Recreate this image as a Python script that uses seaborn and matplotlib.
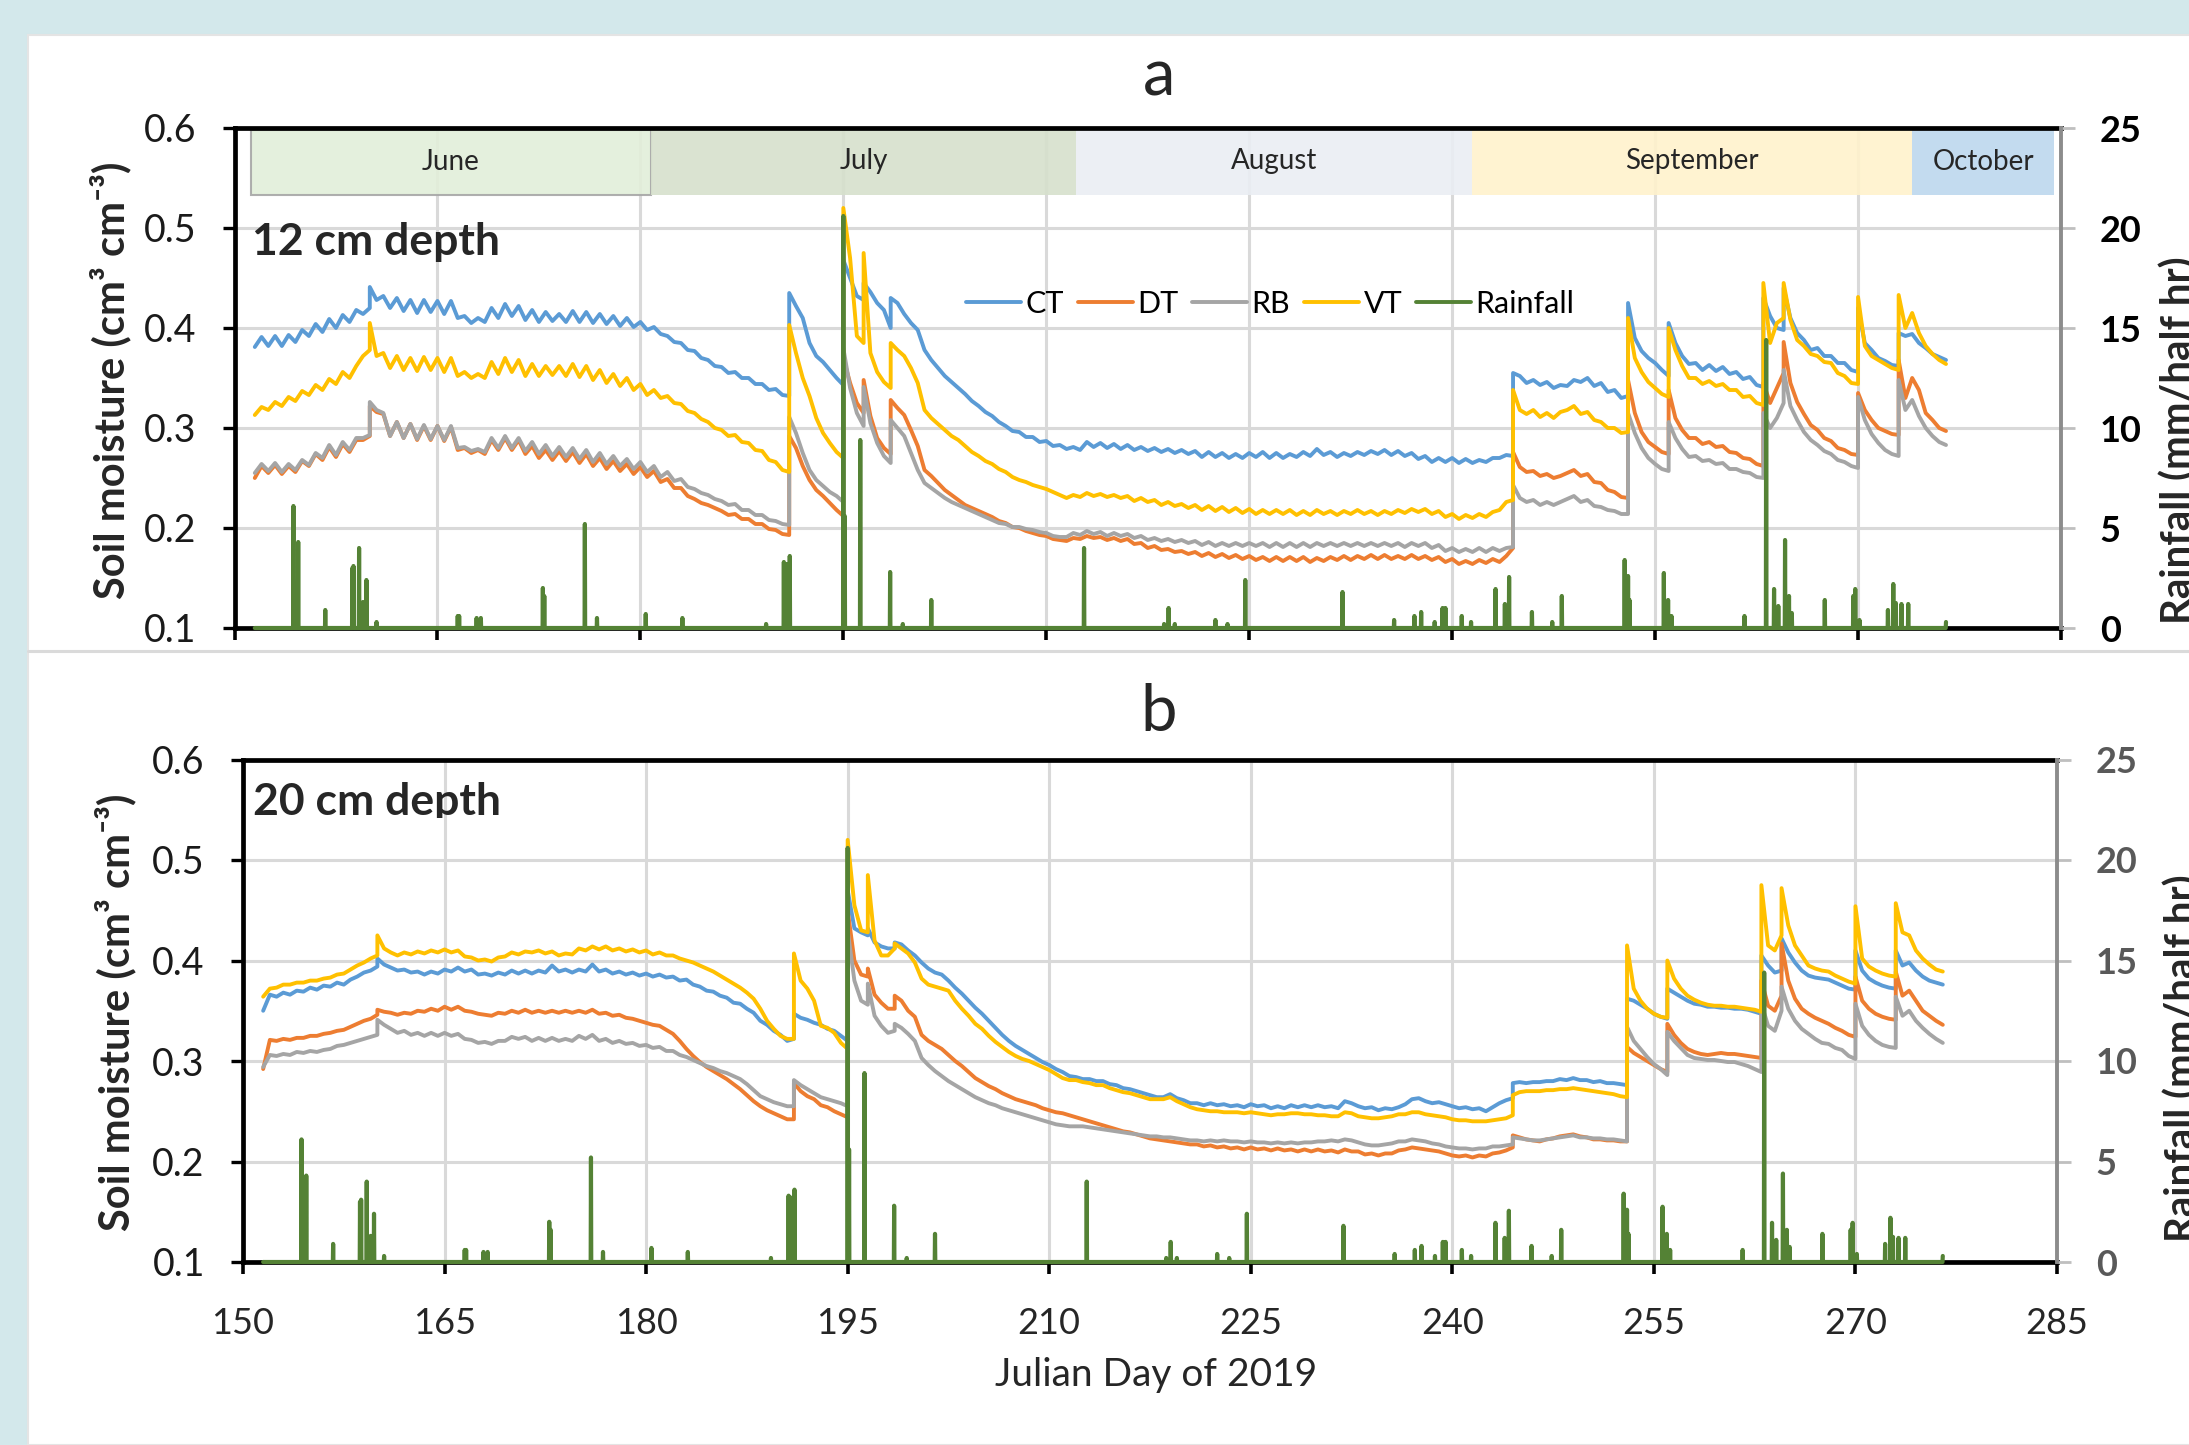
import numpy as np
import pandas as pd
import matplotlib
matplotlib.use("Agg")
import matplotlib.pyplot as plt
import seaborn as sns
from matplotlib.patches import Rectangle
from matplotlib.lines import Line2D
from matplotlib.ticker import FormatStrFormatter
from matplotlib.transforms import Bbox, TransformedBbox

sns.set_theme(style="white")
plt.rcParams["font.family"] = ["Lato", "DejaVu Sans"]

W, H = 2189, 1445

# sampling times: every half day; a repeated day marks a sharp rise after rain
grid_days = np.arange(151.5, 277.0, 0.5)
jump_days = [160.0, 191.0, 195.0, 196.5, 198.5, 244.5, 253.0, 256.0,
             263.0, 264.5, 270.0, 273.0]
days = np.sort(np.concatenate([grid_days, jump_days]), kind="stable")

# soil moisture x1000 (cm3 cm-3) at 12 cm depth
ct_12 = [381, 391, 382, 392, 382, 393, 386, 398, 392, 404,
         396, 409, 400, 413, 406, 418, 414, 420, 441, 428, 432,
         420, 430, 417, 428, 415, 428, 416, 427, 414, 427,
         410, 412, 405, 410, 406, 420, 410, 424, 412, 422,
         408, 418, 406, 416, 407, 414, 406, 417, 406, 416,
         405, 414, 404, 412, 402, 410, 401, 406, 398, 401,
         394, 392, 386, 385, 378, 377, 370, 368, 362, 361,
         355, 356, 350, 350, 344, 344, 338, 339, 333, 332, 435,
         422, 410, 385, 372, 366, 358, 350, 343, 468, 450, 432,
         428, 445, 436, 425, 418, 400, 430, 425, 414, 405, 398, 378,
         368, 360, 352, 346, 340, 334, 327, 322, 316, 312,
         306, 302, 297, 296, 291, 291, 286, 287, 282, 283,
         279, 281, 278, 286, 281, 285, 280, 284, 279, 283,
         278, 281, 277, 280, 276, 279, 275, 278, 274, 277,
         271, 276, 271, 275, 270, 274, 270, 275, 271, 276,
         270, 275, 270, 274, 271, 276, 272, 279, 273, 276,
         271, 275, 272, 276, 273, 277, 274, 278, 273, 277,
         272, 275, 269, 272, 266, 270, 266, 270, 265, 269,
         265, 268, 266, 270, 270, 273, 272, 355, 352, 345, 348,
         343, 346, 340, 343, 342, 348, 346, 350, 342, 345,
         336, 338, 330, 332, 425, 390, 377, 370, 365, 358, 352, 405,
         385, 372, 364, 365, 358, 363, 357, 361, 354, 356,
         349, 351, 343, 341, 430, 412, 400, 398, 440, 410, 395, 388,
         378, 380, 372, 372, 365, 365, 358, 356, 420, 385, 378,
         370, 367, 363, 362, 395, 392, 394, 385, 380, 374, 371,
         368]
dt_12 = [250, 262, 255, 263, 254, 262, 256, 267, 262, 274,
         268, 281, 271, 284, 276, 288, 288, 292, 322, 316, 314,
         292, 306, 290, 304, 288, 302, 288, 302, 287, 301,
         278, 280, 275, 278, 274, 288, 278, 290, 278, 288,
         274, 282, 270, 278, 268, 277, 267, 276, 265, 274,
         262, 270, 259, 267, 257, 264, 254, 261, 251, 257,
         246, 249, 240, 240, 232, 229, 225, 223, 220, 217,
         213, 214, 209, 209, 204, 204, 199, 198, 194, 193, 292,
         280, 262, 248, 238, 232, 225, 218, 212, 370, 345, 325,
         315, 348, 312, 290, 280, 274, 328, 320, 313, 298, 282, 258,
         252, 245, 238, 233, 228, 223, 220, 217, 214, 211,
         207, 205, 201, 200, 197, 195, 193, 192, 189, 188,
         187, 190, 189, 192, 190, 191, 188, 190, 187, 189,
         184, 185, 180, 182, 178, 179, 176, 177, 174, 176,
         172, 175, 171, 174, 170, 173, 169, 172, 168, 171,
         167, 171, 167, 171, 167, 171, 166, 170, 167, 171,
         168, 172, 168, 172, 169, 173, 169, 173, 169, 172,
         169, 173, 169, 172, 168, 171, 166, 169, 164, 167,
         164, 168, 165, 169, 166, 172, 180, 276, 261, 256, 257,
         252, 254, 250, 252, 255, 258, 252, 254, 246, 245,
         238, 236, 231, 230, 348, 315, 296, 286, 281, 276, 274, 338,
         310, 298, 290, 290, 284, 286, 281, 282, 276, 275,
         270, 269, 264, 262, 345, 325, 340, 355, 386, 345, 326, 314,
         303, 298, 290, 287, 280, 278, 274, 273, 335, 318, 308,
         300, 297, 294, 293, 368, 330, 350, 338, 315, 308, 300,
         297]
rb_12 = [255, 264, 257, 265, 256, 264, 258, 268, 263, 275,
         270, 283, 273, 286, 278, 290, 290, 293, 326, 318, 315,
         292, 306, 290, 304, 289, 303, 289, 302, 288, 302,
         280, 281, 277, 279, 276, 290, 280, 292, 280, 290,
         277, 286, 274, 283, 272, 281, 271, 280, 269, 278,
         266, 275, 264, 272, 262, 269, 259, 266, 256, 262,
         251, 256, 247, 249, 241, 239, 235, 233, 229, 227,
         223, 224, 218, 218, 213, 213, 208, 207, 204, 203, 311,
         295, 275, 258, 248, 242, 236, 232, 226, 380, 340, 315,
         302, 341, 305, 285, 272, 265, 308, 300, 292, 275, 258, 245,
         240, 235, 230, 226, 223, 220, 217, 214, 211, 208,
         205, 204, 201, 201, 199, 198, 196, 195, 192, 191,
         191, 195, 193, 197, 194, 196, 192, 195, 192, 194,
         190, 192, 188, 190, 187, 189, 186, 188, 185, 187,
         183, 186, 182, 185, 182, 185, 182, 185, 182, 185,
         181, 185, 181, 185, 181, 185, 181, 185, 182, 185,
         182, 185, 182, 185, 182, 185, 182, 185, 182, 185,
         181, 185, 182, 185, 180, 183, 177, 180, 176, 179,
         176, 180, 176, 180, 177, 180, 181, 243, 230, 226, 228,
         223, 226, 223, 226, 229, 232, 226, 228, 222, 221,
         218, 217, 214, 214, 315, 295, 280, 270, 264, 259, 257, 306,
         290, 279, 271, 272, 267, 268, 264, 265, 259, 259,
         256, 255, 251, 250, 315, 300, 310, 325, 358, 322, 308, 296,
         288, 283, 277, 274, 268, 266, 262, 260, 331, 308, 294,
         285, 278, 274, 272, 348, 318, 328, 312, 300, 292, 286,
         283]
vt_12 = [313, 321, 318, 326, 322, 331, 327, 337, 333, 343,
         338, 349, 344, 356, 350, 362, 372, 378, 405, 372, 375,
         360, 372, 358, 370, 357, 371, 358, 370, 356, 370,
         352, 356, 350, 354, 350, 366, 354, 370, 356, 368,
         352, 364, 352, 362, 353, 362, 352, 364, 351, 362,
         348, 358, 345, 354, 342, 350, 338, 344, 333, 338,
         330, 332, 325, 324, 317, 315, 309, 306, 300, 298,
         292, 293, 286, 285, 278, 277, 268, 266, 258, 256, 403,
         375, 350, 332, 310, 295, 285, 276, 270, 520, 470, 392,
         385, 475, 375, 356, 346, 340, 385, 378, 372, 360, 345, 318,
         310, 304, 298, 292, 288, 282, 276, 272, 267, 264,
         259, 256, 251, 248, 246, 243, 241, 239, 236, 233,
         230, 233, 231, 235, 232, 234, 231, 233, 230, 232,
         227, 230, 226, 228, 223, 226, 222, 224, 220, 223,
         218, 222, 217, 221, 216, 220, 215, 219, 214, 218,
         214, 218, 214, 218, 213, 217, 213, 218, 214, 217,
         213, 217, 214, 218, 214, 217, 213, 217, 214, 218,
         215, 219, 216, 219, 214, 217, 211, 214, 209, 213,
         210, 214, 211, 216, 218, 226, 228, 338, 318, 314, 318,
         311, 315, 310, 316, 318, 322, 314, 316, 308, 306,
         300, 300, 295, 296, 410, 370, 356, 346, 340, 334, 331, 400,
         378, 362, 350, 350, 344, 347, 342, 344, 338, 338,
         331, 332, 325, 323, 445, 385, 405, 410, 445, 408, 388, 382,
         374, 372, 366, 365, 355, 352, 345, 344, 431, 382, 372,
         368, 364, 360, 358, 433, 400, 415, 395, 382, 374, 368,
         364]

# soil moisture x1000 (cm3 cm-3) at 20 cm depth
ct_20 = [350, 366, 364, 368, 366, 370, 369, 373, 371, 375,
         374, 378, 376, 381, 384, 388, 390, 394, 402, 396, 393,
         390, 391, 388, 389, 386, 389, 387, 391, 389, 393,
         389, 391, 386, 387, 385, 388, 386, 390, 387, 390,
         387, 390, 388, 395, 389, 391, 388, 391, 389, 396,
         389, 391, 387, 389, 386, 388, 385, 387, 384, 386,
         383, 384, 380, 381, 376, 374, 370, 369, 365, 363,
         358, 357, 352, 348, 340, 336, 330, 326, 320, 322, 347,
         343, 341, 338, 336, 332, 330, 325, 320, 470, 432, 428,
         425, 432, 418, 414, 412, 412, 418, 416, 410, 405, 398, 392,
         388, 386, 380, 373, 367, 360, 353, 347, 340, 333,
         326, 320, 315, 311, 307, 303, 299, 296, 292, 289,
         285, 284, 282, 282, 280, 280, 277, 276, 273, 272,
         270, 268, 266, 264, 264, 267, 263, 261, 258, 258,
         256, 258, 256, 257, 255, 256, 254, 257, 255, 256,
         253, 255, 253, 256, 254, 256, 254, 256, 254, 255,
         253, 260, 258, 255, 253, 254, 251, 253, 252, 254,
         257, 262, 263, 260, 258, 259, 257, 255, 253, 254,
         252, 253, 250, 254, 258, 261, 263, 278, 279, 278, 279,
         279, 280, 280, 282, 281, 283, 281, 281, 279, 280,
         278, 278, 277, 276, 362, 360, 356, 352, 347, 344, 342, 372,
         368, 364, 360, 357, 356, 354, 354, 353, 353, 352,
         352, 351, 349, 347, 405, 395, 388, 390, 422, 408, 398, 390,
         385, 383, 382, 381, 378, 375, 372, 371, 410, 390, 382,
         378, 375, 373, 372, 410, 395, 398, 390, 384, 380, 378,
         376]
dt_20 = [292, 321, 320, 322, 321, 323, 323, 325, 325, 327,
         328, 330, 331, 334, 337, 340, 342, 346, 351, 349, 348,
         346, 348, 347, 350, 349, 352, 350, 354, 351, 354,
         350, 349, 347, 346, 345, 348, 347, 350, 348, 351,
         348, 350, 348, 350, 348, 350, 348, 350, 348, 351,
         347, 348, 345, 346, 343, 342, 340, 338, 336, 335,
         331, 327, 320, 312, 305, 299, 294, 290, 286, 282,
         277, 272, 266, 260, 255, 251, 248, 245, 242, 242, 278,
         270, 265, 262, 256, 254, 250, 247, 244, 450, 400, 386,
         384, 392, 366, 358, 352, 352, 365, 360, 350, 344, 326, 320,
         316, 312, 306, 300, 295, 289, 283, 279, 275, 272,
         268, 265, 262, 260, 258, 256, 253, 251, 249, 248,
         246, 244, 242, 240, 238, 236, 234, 232, 230, 229,
         227, 225, 223, 222, 221, 220, 219, 218, 217, 217,
         215, 216, 214, 215, 213, 214, 212, 214, 212, 213,
         211, 213, 211, 212, 210, 212, 210, 212, 210, 211,
         209, 212, 210, 210, 207, 208, 206, 208, 208, 211,
         212, 214, 213, 212, 211, 210, 208, 206, 205, 206,
         204, 206, 205, 208, 209, 211, 214, 226, 224, 222, 221,
         220, 222, 223, 225, 226, 227, 225, 224, 222, 222,
         221, 221, 220, 220, 314, 308, 304, 300, 296, 292, 289, 337,
         326, 318, 312, 309, 307, 306, 307, 308, 307, 307,
         306, 305, 304, 303, 380, 355, 350, 365, 417, 380, 362, 352,
         347, 343, 340, 337, 333, 330, 326, 324, 384, 360, 352,
         347, 344, 342, 341, 389, 365, 370, 360, 350, 345, 340,
         336]
rb_20 = [294, 306, 305, 307, 306, 309, 308, 310, 309, 311,
         312, 315, 316, 318, 320, 322, 324, 326, 341, 336, 332,
         328, 330, 326, 328, 325, 328, 325, 328, 325, 327,
         322, 321, 318, 319, 317, 320, 320, 324, 322, 324,
         320, 323, 320, 323, 320, 322, 320, 325, 322, 326,
         320, 322, 318, 320, 317, 318, 315, 316, 313, 314,
         310, 310, 306, 304, 301, 298, 295, 293, 290, 288,
         285, 282, 277, 271, 265, 262, 259, 257, 255, 255, 281,
         276, 272, 268, 264, 262, 260, 258, 255, 430, 380, 360,
         356, 377, 345, 335, 328, 330, 337, 333, 327, 320, 303, 296,
         290, 285, 280, 276, 272, 268, 264, 261, 258, 256,
         253, 251, 249, 247, 245, 243, 241, 239, 237, 236,
         235, 235, 235, 234, 233, 232, 231, 230, 229, 228,
         227, 226, 225, 225, 224, 224, 223, 222, 221, 221,
         220, 221, 220, 221, 220, 220, 219, 220, 219, 219,
         218, 219, 218, 219, 218, 219, 219, 220, 220, 221,
         220, 222, 221, 219, 217, 216, 216, 217, 218, 220,
         220, 222, 221, 220, 218, 217, 215, 214, 213, 213,
         212, 213, 213, 215, 215, 216, 217, 224, 223, 222, 221,
         221, 222, 223, 224, 225, 226, 224, 224, 223, 223,
         222, 222, 221, 220, 334, 320, 312, 304, 297, 292, 286, 329,
         320, 313, 306, 303, 302, 301, 301, 300, 299, 299,
         297, 295, 292, 289, 357, 335, 330, 350, 374, 352, 340, 332,
         327, 322, 318, 317, 313, 311, 305, 302, 357, 335, 326,
         320, 316, 314, 313, 364, 345, 350, 340, 333, 327, 322,
         318]
vt_20 = [364, 372, 373, 376, 376, 378, 378, 380, 380, 382,
         383, 386, 387, 391, 395, 398, 402, 405, 425, 412, 408,
         405, 408, 406, 409, 407, 410, 408, 411, 408, 410,
         404, 403, 400, 401, 399, 403, 404, 408, 406, 409,
         408, 410, 407, 409, 405, 407, 406, 412, 410, 414,
         411, 414, 410, 412, 409, 411, 408, 410, 406, 408,
         405, 405, 402, 400, 398, 395, 392, 389, 385, 381,
         377, 373, 368, 362, 352, 340, 332, 325, 322, 322, 407,
         380, 372, 360, 335, 333, 328, 318, 312, 520, 455, 430,
         428, 485, 420, 405, 405, 412, 417, 412, 407, 398, 382, 376,
         374, 372, 370, 360, 352, 345, 337, 332, 325, 319,
         314, 309, 305, 302, 300, 297, 294, 291, 287, 283,
         281, 281, 279, 278, 276, 276, 273, 271, 269, 268,
         266, 264, 262, 262, 262, 264, 260, 257, 254, 252,
         251, 250, 250, 249, 249, 249, 248, 249, 248, 247,
         246, 247, 247, 248, 248, 247, 247, 246, 246, 245,
         245, 249, 248, 245, 244, 243, 243, 244, 245, 247,
         247, 249, 249, 247, 246, 245, 244, 242, 241, 241,
         240, 240, 240, 241, 242, 243, 246, 266, 269, 270, 270,
         270, 271, 271, 272, 272, 273, 272, 271, 270, 269,
         268, 267, 265, 264, 415, 372, 360, 352, 347, 344, 343, 400,
         382, 372, 365, 361, 358, 356, 355, 355, 354, 354,
         353, 352, 351, 349, 475, 415, 410, 425, 472, 435, 415, 405,
         395, 392, 390, 389, 385, 382, 379, 377, 454, 402, 394,
         390, 387, 385, 384, 457, 428, 425, 410, 402, 396, 391,
         389]

# half-hourly rainfall events (Julian day, mm per half hour)
rain_day = [154.35, 154.7, 156.7, 158.7, 158.8, 159.2, 159.5, 159.75, 160.5,
            166.5, 166.6, 167.9, 168.2, 172.8, 172.9, 175.9, 176.8, 180.4,
            183.1, 189.3, 190.6, 190.8, 191.05, 195.0, 195.1, 196.25, 198.45,
            199.4, 201.5, 212.8, 218.7, 219.05, 219.5, 222.5, 223.4, 224.7,
            231.9, 235.7, 237.2, 237.7, 238.7, 239.3, 239.5, 240.7, 241.4,
            243.2, 243.9, 244.2, 245.9, 247.4, 248.1, 252.75, 253.0, 253.1,
            255.65, 255.95, 256.2, 261.6, 263.2, 263.8, 264.1, 264.6, 264.9,
            265.1, 267.55, 269.65, 269.8, 270.1, 272.2, 272.6, 272.8, 273.2,
            273.7, 276.5]
rain_mm = [6.1, 4.3, 0.9, 3.0, 3.1, 4.0, 1.3, 2.4, 0.3,
           0.6, 0.6, 0.5, 0.5, 2.0, 1.6, 5.2, 0.5, 0.7,
           0.5, 0.2, 3.3, 3.2, 3.6, 20.6, 5.6, 9.4, 2.8,
           0.2, 1.4, 4.0, 0.2, 1.0, 0.2, 0.4, 0.2, 2.4,
           1.8, 0.4, 0.6, 0.8, 0.3, 1.0, 1.0, 0.6, 0.3,
           1.95, 1.2, 2.55, 0.8, 0.3, 1.6, 3.4, 2.6, 1.4,
           2.75, 1.4, 0.6, 0.6, 14.4, 1.95, 1.1, 4.4, 1.6,
           0.75, 1.4, 1.6, 1.95, 0.4, 0.9, 2.2, 1.25, 1.2,
           1.2, 0.3]

months = ["June", "July", "August", "September", "October"]
month_start = [151.2, 180.8, 212.2, 241.5, 274.0]
month_end = [180.8, 212.2, 241.5, 274.0, 284.5]
month_colors = ["#e2efda", "#d6e0cc", "#eaeef3", "#fff2cc", "#bdd7ee"]

treatments = ["CT", "DT", "RB", "VT"]
palette = {"CT": "#5b9bd5", "DT": "#ed7d31", "RB": "#a5a5a5", "VT": "#ffc000"}
rain_color = "#548235"

panel_12 = {"CT": ct_12, "DT": dt_12, "RB": rb_12, "VT": vt_12}
panel_20 = {"CT": ct_20, "DT": dt_20, "RB": rb_20, "VT": vt_20}
for name, panel in [("12", panel_12), ("20", panel_20)]:
    for t in treatments:
        if len(panel[t]) != len(days):
            raise ValueError(f"{t}_{name}: {len(panel[t])} values, need {len(days)}")

# rainfall on a half-hour clock
rain_t = 151.5 + np.arange(125 * 48 + 1) / 48
rain = np.zeros(len(rain_t))
rain[np.rint((np.array(rain_day) - 151.5) * 48).astype(int)] = rain_mm

fig = plt.figure(figsize=(W / 100, H / 100), dpi=100)
fig.patch.set_facecolor("#d3e8eb")
fig.add_artist(Rectangle((28 / W, 0), 1, 1 - 35 / H, transform=fig.transFigure,
                         facecolor="white", edgecolor="#e4e4e4", lw=1.5, zorder=-5))
fig.add_artist(Line2D([28 / W, 1], [1 - 651 / H] * 2, color="#dadada", lw=2.2,
                      transform=fig.transFigure))


def draw_panel(rect, panel, right_color, show_xlabels):
    ax = fig.add_axes(rect)
    df = pd.DataFrame({
        "day": np.tile(days, len(treatments)),
        "moisture": np.concatenate([np.array(panel[t]) / 1000 for t in treatments]),
        "treatment": np.repeat(treatments, len(days)),
    })
    sns.lineplot(data=df, x="day", y="moisture", hue="treatment",
                 hue_order=treatments, palette=palette, estimator=None,
                 sort=False, lw=2.8, legend=False, ax=ax, zorder=3)
    ax.set_xlim(150, 285)
    ax.set_ylim(0.1, 0.6)
    ax.set_xticks(np.arange(150, 286, 15))
    ax.set_yticks(np.arange(0.1, 0.61, 0.1))
    ax.yaxis.set_major_formatter(FormatStrFormatter("%.1f"))
    ax.grid(True, color="#d9d9d9", lw=2.2)
    ax.set_axisbelow(True)
    ax.set_xlabel("")
    ax.set_ylabel("")
    for side in ["left", "bottom", "top"]:
        ax.spines[side].set_color("black")
        ax.spines[side].set_linewidth(3.4)
    ax.spines["right"].set_visible(False)
    ax.tick_params(axis="y", direction="out", length=8.5, width=2.4,
                   color="black", labelsize=27, labelcolor="#1a1a1a", pad=19,
                   left=True)
    ax.tick_params(axis="x", direction="out", length=8.5, width=2.6,
                   color="black", labelsize=26, labelcolor="#262626", pad=24,
                   bottom=True, labelbottom=show_xlabels)

    ax2 = ax.twinx()
    sns.lineplot(x=rain_t, y=rain, color=rain_color, lw=3.0, estimator=None,
                 ax=ax2, clip_on=False)
    ax2.set_ylim(0, 25)
    ax2.set_yticks(np.arange(0, 26, 5))
    ax2.set_ylabel("")
    for side in ["left", "bottom", "top"]:
        ax2.spines[side].set_visible(False)
    ax2.spines["right"].set_color("#8c8c8c")
    ax2.spines["right"].set_linewidth(2.8)
    ax2.tick_params(axis="y", direction="out", length=10, width=2,
                    color="#bfbfbf", labelsize=26, labelcolor=right_color,
                    pad=18, right=True)
    for lbl in ax2.get_yticklabels():
        lbl.set_fontweight("bold")
    return ax, ax2


top_rect = [234.5 / W, 1 - 628 / H, 1826.5 / W, 500 / H]
bot_rect = [243 / W, 1 - 1262 / H, 1814 / W, 502.5 / H]

ax_a, ax_a2 = draw_panel(top_rect, panel_12, "black", False)
ax_b, ax_b2 = draw_panel(bot_rect, panel_20, "#595959", True)

# month bands across the top of panel a
for name, x0, x1, c in zip(months, month_start, month_end, month_colors):
    ax_a.add_patch(Rectangle((x0, 0.866), x1 - x0, 0.13,
                             transform=ax_a.get_xaxis_transform(),
                             facecolor=c, alpha=0.9, zorder=2,
                             edgecolor="#a6a6a6" if name == "June" else "none",
                             lw=1.5))
    ax_a.text((x0 + x1) / 2, 0.917, name, transform=ax_a.get_xaxis_transform(),
              ha="center", va="baseline", fontsize=20, color="#262626", zorder=4)

handles = [Line2D([], [], color=palette[t], lw=2.8) for t in treatments]
handles.append(Line2D([], [], color=rain_color, lw=2.8))
ax_a2.legend(handles, treatments + ["Rainfall"], loc="center",
             bbox_to_anchor=(0.567, 0.648), ncol=5, frameon=False, fontsize=22,
             handlelength=1.8, handletextpad=0.15, columnspacing=0.45,
             labelcolor="black")

ax_a2.text(0.0094, 0.746, "12 cm depth", transform=ax_a.transAxes,
           fontsize=32, fontweight="bold", ha="left", va="baseline", zorder=5)
t20 = ax_b2.text(0.0055, 0.8896, "20 cm depth", transform=ax_b.transAxes,
                 fontsize=32, fontweight="bold", ha="left", va="baseline", zorder=5)
t20.set_clip_box(TransformedBbox(Bbox([[0, 0.884], [1, 1]]), ax_b.transAxes))
t20.set_clip_on(True)

fig.text(1159 / W, 1 - 96 / H, "a", fontsize=47, ha="center", va="baseline")
fig.text(1159 / W, 1 - 731 / H, "b", fontsize=47, ha="center", va="baseline")

ylab = "Soil moisture (cm³ cm⁻³)"
fig.text(110.5 / W, 1 - 380 / H, ylab, rotation=90, fontsize=30,
         fontweight="bold", ha="center", va="center")
fig.text(115 / W, 1 - 1012 / H, ylab, rotation=90, fontsize=30,
         fontweight="bold", ha="center", va="center")
fig.text(2160 / W, 1 - 440 / H, "Rainfall (mm/half hr)", rotation=90,
         fontsize=29, fontweight="bold", ha="left", va="center")
fig.text(2164 / W, 1 - 1058 / H, "Rainfall (mm/half hr)", rotation=90,
         fontsize=29, fontweight="bold", ha="left", va="center")
fig.text(1156 / W, 1 - 1375 / H, "Julian Day of 2019", fontsize=28,
         ha="center", va="center", color="#262626")

fig.savefig("out.png", dpi=100)
